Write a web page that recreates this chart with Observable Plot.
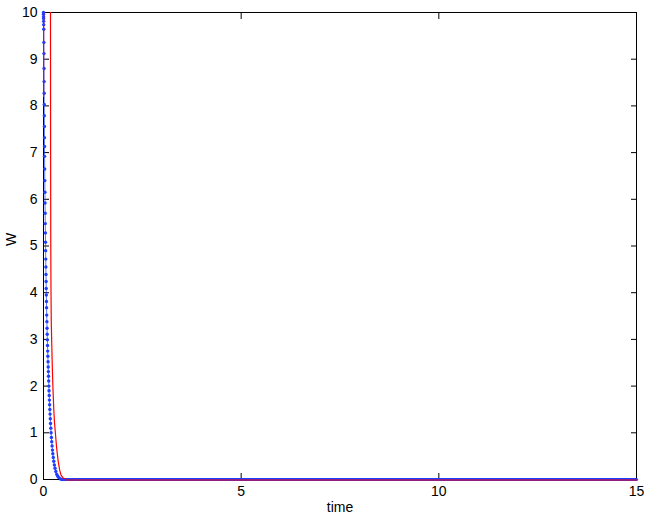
<!DOCTYPE html>
<html><head><meta charset="utf-8">
<script src="https://cdn.jsdelivr.net/npm/d3@7"></script>
<script src="https://cdn.jsdelivr.net/npm/@observablehq/plot@0.6"></script>
<style>body{margin:0;background:#fff} svg{display:block}</style>
</head><body><div id="chart"></div>
<script>
const xTicks = [0, 5, 10, 15];
const yTicks = [0, 1, 2, 3, 4, 5, 6, 7, 8, 9, 10];

// blue series (dots joined by a line)
const blueTime = [0.000,0.001,0.002,0.003,0.004,0.005,0.007,0.010,0.012,0.014,0.016,0.018,0.020,0.021,0.023,0.024,0.026,0.027,
  0.030,0.033,0.036,0.039,0.042,0.045,0.048,0.051,0.054,0.057,0.060,0.063,0.066,0.069,0.072,0.075,0.078,0.082,0.086,0.090,
  0.094,0.098,0.102,0.106,0.110,0.115,0.119,0.123,0.127,0.131,0.136,0.140,0.145,0.150,0.155,0.160,0.166,0.172,0.178,0.185,
  0.192,0.200,0.208,0.217,0.226,0.236,0.247,0.260,0.275,0.292,0.312,0.335,0.360,0.390,0.430,0.470,15];
const blueW = [10.00,9.96,9.91,9.87,9.81,9.74,9.64,9.36,9.12,8.80,8.52,8.27,8.03,7.79,7.56,7.32,7.13,6.92,
  6.65,6.40,6.15,5.92,5.70,5.48,5.28,5.08,4.90,4.72,4.55,4.39,4.24,4.09,3.95,3.81,3.68,3.52,3.38,3.24,
  3.11,2.99,2.87,2.75,2.64,2.52,2.41,2.31,2.21,2.11,2.00,1.90,1.80,1.70,1.60,1.50,1.40,1.30,1.20,1.10,
  1.00,0.90,0.81,0.72,0.63,0.55,0.47,0.39,0.31,0.24,0.17,0.11,0.07,0.04,0.01,0.00,0.00];

// red series (thin line)
const redTime = [0.000,0.003,0.020,0.080,0.150,0.177,0.180,0.184,0.190,0.196,0.206,0.220,0.237,0.260,0.280,0.300,0.330,0.370,0.410,0.440,0.500,0.580,15];
const redW = [8.2,11.0,14.0,15.0,13.0,10.0,7.0,5.0,4.0,3.4,3.0,2.5,2.0,1.5,1.2,1.0,0.7,0.4,0.2,0.1,0.03,0.0,0.0];

const blue = blueTime.map((t, i) => ({t, w: blueW[i]}));
const red = redTime.map((t, i) => ({t, w: redW[i]}));
const blueTail = blue.filter(d => d.w === 0);
const redTail = red.filter(d => d.w === 0);

const blueC = "#1f3fff";
const redC = "#ff0000";

const chart = Plot.plot({
  width: 648, height: 517,
  marginLeft: 43, marginRight: 12, marginTop: 12, marginBottom: 38,
  x: {domain: [0, 15]},
  y: {domain: [0, 10]},
  style: {fontFamily: "'Liberation Sans', Arial, sans-serif", fontSize: "14px", background: "#fff", color: "#000"},
  marks: [
    Plot.frame({stroke: "#000"}),
    Plot.axisX(xTicks, {anchor: "bottom", tickSize: 0, tickPadding: 7, label: null}),
    Plot.axisX(xTicks, {anchor: "bottom", tickSize: 6, dy: -6, fill: "none", label: null}),
    Plot.axisX(xTicks, {anchor: "top", tickSize: 6, dy: 6, fill: "none", label: null}),
    Plot.axisY(yTicks, {anchor: "left", tickSize: 0, tickPadding: 6, label: null}),
    Plot.axisY(yTicks, {anchor: "left", tickSize: 6, dx: 6, fill: "none", label: null}),
    Plot.axisY(yTicks, {anchor: "right", tickSize: 6, dx: -6, fill: "none", label: null}),
    Plot.text(["time"], {text: d => d, frameAnchor: "bottom", dy: 32}),
    Plot.text(["W"], {text: d => d, frameAnchor: "left", dx: -31.5, rotate: -90}),
    Plot.line(blueTail, {x: "t", y: "w", stroke: blueC, strokeWidth: 3.2}),
    Plot.line(blue, {x: "t", y: "w", stroke: blueC, strokeWidth: 1, strokeOpacity: 0.7}),
    Plot.dot(blue.filter(d => d.t < 15), {x: "t", y: "w", r: 1.7, fill: blueC, stroke: null}),
    Plot.line(red, {x: "t", y: "w", stroke: redC, strokeWidth: 1.2, clip: true}),
    Plot.line(redTail, {x: "t", y: "w", stroke: redC, strokeWidth: 1, dy: 0.5})
  ]
});
document.getElementById("chart").appendChild(chart);
</script>
</body></html>
